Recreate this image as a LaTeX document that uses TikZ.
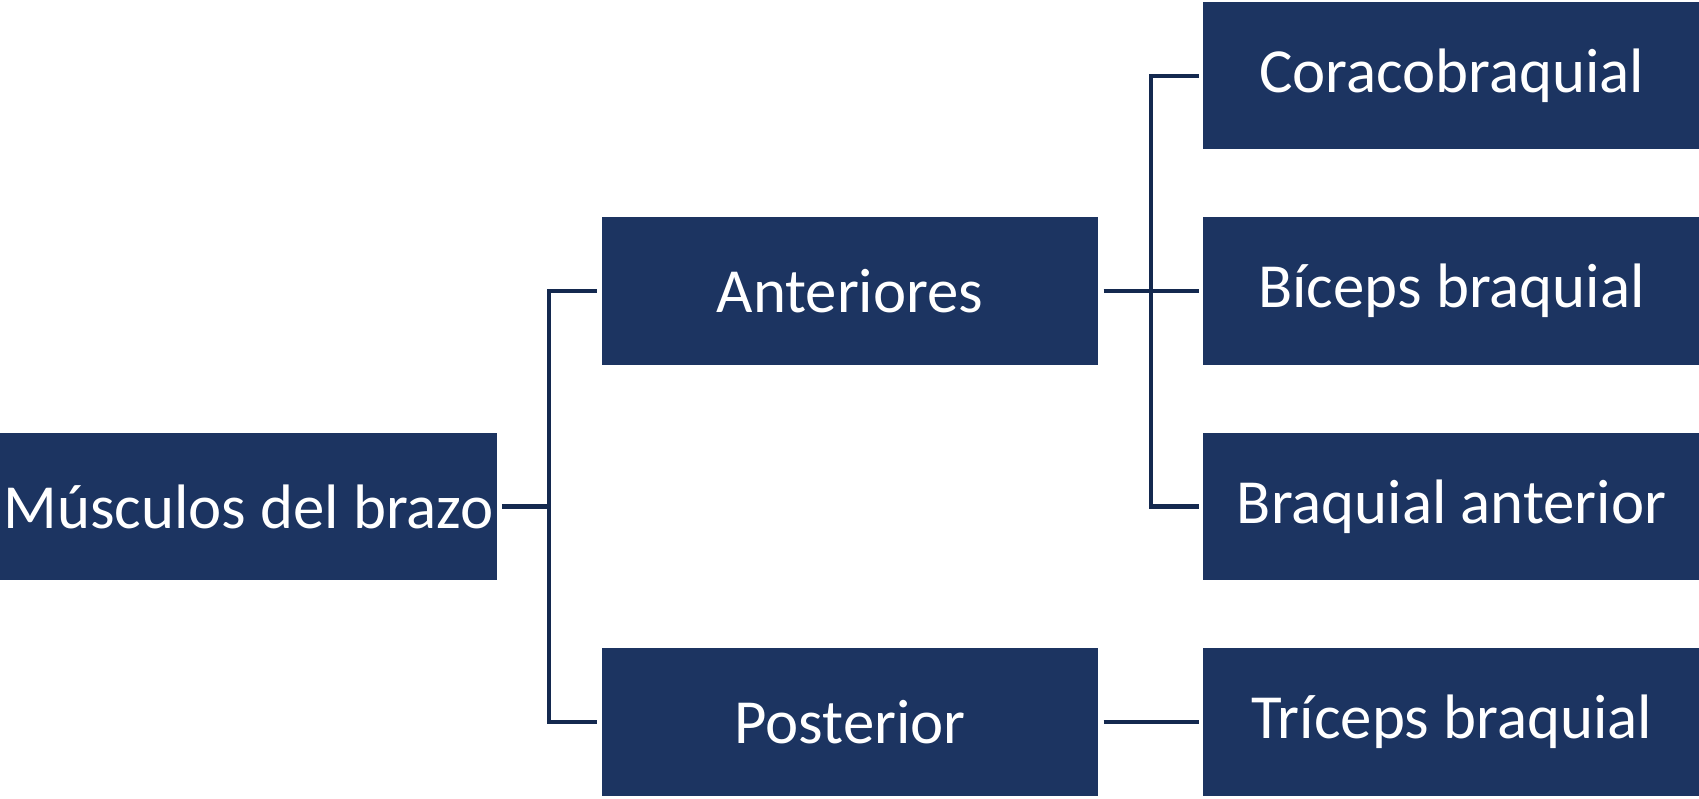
\documentclass[tikz,border=0pt]{standalone}
\usepackage{fontspec}
\setmainfont{Carlito}
\definecolor{boxfill}{HTML}{1C3461}
\definecolor{linecol}{HTML}{14294F}
\tikzset{
  mbox/.style={fill=boxfill, draw=none, minimum width=496.6pt, minimum height=147.5pt,
    inner sep=0pt, text=white, font=\fontsize{62.8}{70}\selectfont, anchor=center},
  conn/.style={draw=linecol, line width=4.3pt, line join=miter, line cap=butt}
}
\begin{document}
\begin{tikzpicture}[x=1pt,y=-1pt]
\useasboundingbox[fill=white] (0,0) rectangle (1699,799);
\node[mbox, minimum width=497pt] (root) at (248.5,506.5) {Músculos del brazo};
\node[mbox] (ant) at (850,291) {Anteriores};
\node[mbox] (post) at (850,722) {Posterior};
\node[mbox] (cor) at (1451.6,75.75) {Coracobraquial};
\node[mbox] (bic) at (1451.6,291) {Bíceps braquial};
\node[mbox] (bra) at (1451.6,506.5) {Braquial anterior};
\node[mbox] (tri) at (1451.6,722) {Tríceps braquial};
% connectors
\coordinate (j1) at (549.3,506.5);
\coordinate (j2) at (1151,291);
\draw[conn] ([xshift=4.7pt]root.east) -- (j1);
\draw[conn] ([xshift=-5pt]ant.west) -| (j1) |- ([xshift=-5pt]post.west);
\draw[conn] ([xshift=5pt]ant.east) -- ([xshift=-4.6pt]bic.west);
\draw[conn] ([xshift=-4.6pt]cor.west) -| (j2) |- ([xshift=-4.6pt]bra.west);
\draw[conn] ([xshift=5pt]post.east) -- ([xshift=-4.6pt]tri.west);
\end{tikzpicture}
\end{document}
